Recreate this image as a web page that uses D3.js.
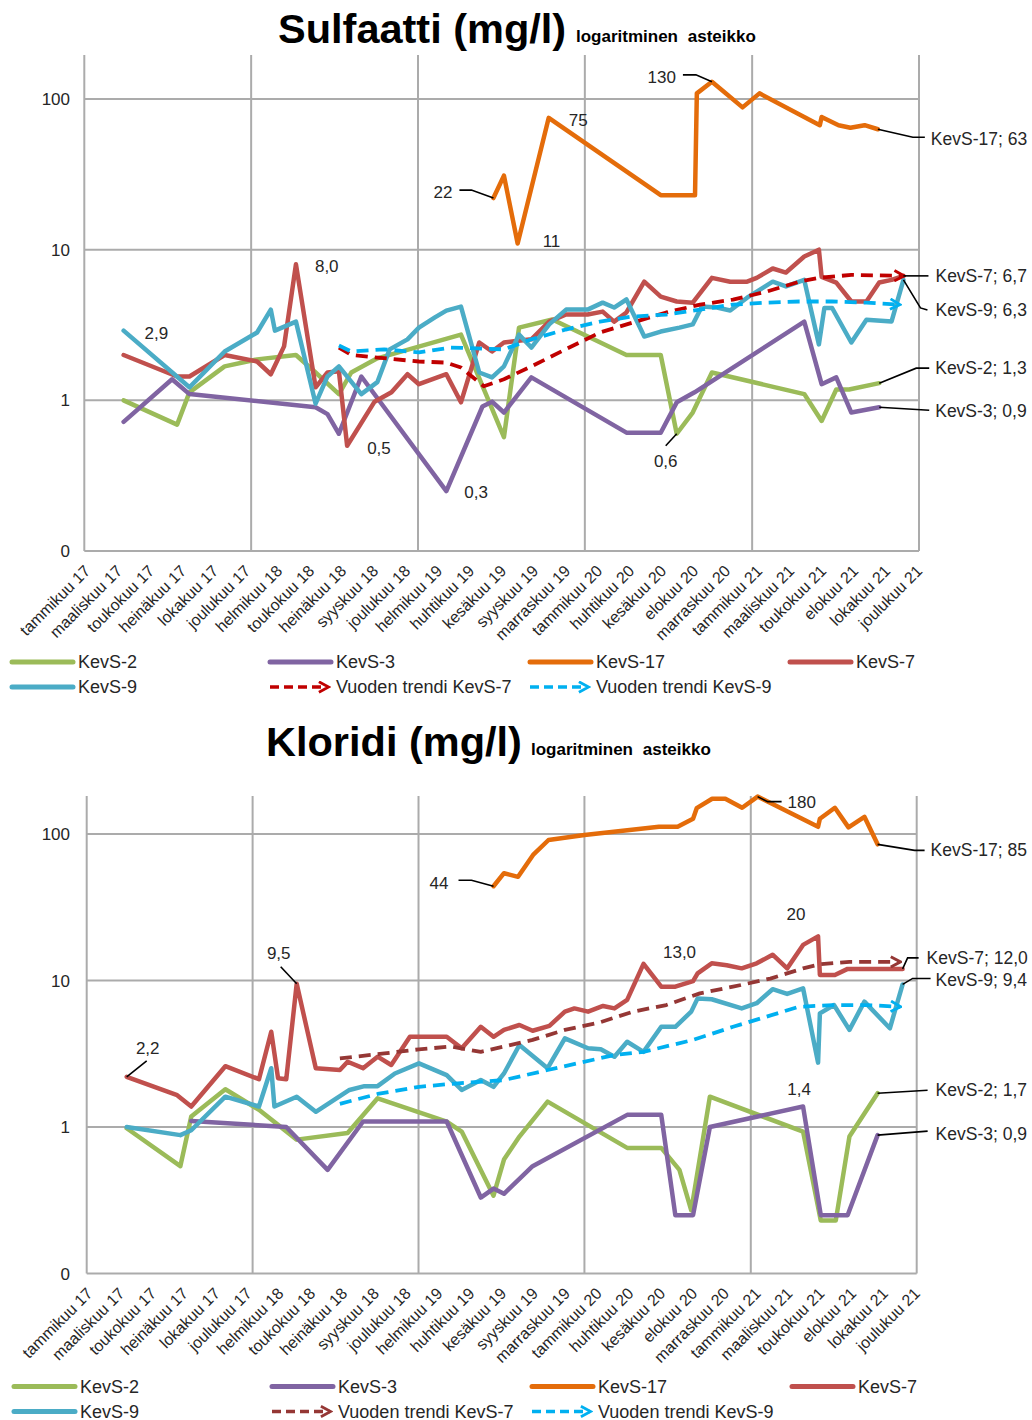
<!DOCTYPE html>
<html><head><meta charset="utf-8">
<script src="https://cdn.jsdelivr.net/npm/d3@7"></script>
<style>
body{margin:0;background:#fff;}
svg text{font-family:"Liberation Sans",Arial,sans-serif;fill:#262626;}
</style></head><body>
<svg id="c" width="1032" height="1420"></svg>
<script>
// ---------- shared axis data ----------
const xTickLabels = ["tammikuu 17","maaliskuu 17","toukokuu 17","heinäkuu 17","lokakuu 17","joulukuu 17","helmikuu 18","toukokuu 18","heinäkuu 18","syyskuu 18","joulukuu 18","helmikuu 19","huhtikuu 19","kesäkuu 19","syyskuu 19","marraskuu 19","tammikuu 20","huhtikuu 20","kesäkuu 20","elokuu 20","marraskuu 20","tammikuu 21","maaliskuu 21","toukokuu 21","elokuu 21","lokakuu 21","joulukuu 21"];
const xTickStart = "2017-01-01";
const xTickStepDays = 70;
const xDomain = ["2017-01-01","2022-01-01"];
const yearLines = ["2017-01-01","2018-01-01","2019-01-01","2020-01-01","2021-01-01","2022-01-01"];
const yTickValues = [0.1, 1, 10, 100];
const yTickLabels = ["0","1","10","100"];
const seriesNames = ["KevS-2","KevS-3","KevS-17","KevS-7","KevS-9","Vuoden trendi KevS-7","Vuoden trendi KevS-9"];

// ---------- Sulfaatti ----------
const sulS2Dates = ["2017-03-28","2017-07-23","2017-08-19","2017-11-04","2018-01-14","2018-04-09","2018-05-22","2018-07-12","2018-08-08","2018-10-04","2019-04-05","2019-07-08","2019-08-10","2019-10-22","2020-04-01","2020-06-15","2020-07-20","2020-08-24","2020-10-05","2021-04-25","2021-06-02","2021-07-04","2021-08-01","2021-10-06"];
const sulS2Vals = [1.0,0.69,1.13,1.68,1.87,2.0,1.53,1.1,1.53,1.9,2.73,0.57,3.04,3.44,2.0,2.0,0.6,0.83,1.53,1.1,0.73,1.18,1.18,1.3];

const sulS3Dates = ["2017-03-28","2017-07-12","2017-08-19","2018-05-22","2018-06-17","2018-07-12","2018-08-30","2019-03-04","2019-05-22","2019-06-12","2019-07-08","2019-09-06","2020-04-01","2020-06-15","2020-07-20","2020-08-28","2021-04-25","2021-06-02","2021-07-04","2021-08-06","2021-10-06"];
const sulS3Vals = [0.72,1.38,1.1,0.9,0.81,0.6,1.44,0.25,0.91,0.98,0.83,1.42,0.61,0.61,0.97,1.13,3.33,1.28,1.42,0.83,0.9];

const sulS17Dates = ["2019-06-15","2019-07-08","2019-08-07","2019-10-14","2020-06-15","2020-08-29","2020-09-02","2020-10-05","2020-12-11","2021-01-17","2021-05-29","2021-06-02","2021-07-09","2021-08-04","2021-09-04","2021-10-03"];
const sulS17Vals = [22,31,11,75,23,23,109,130,88,109,67,76,67,64.5,67,63];

const sulS7Dates = ["2017-03-28","2017-07-23","2017-08-19","2017-11-04","2018-01-14","2018-02-13","2018-03-14","2018-04-09","2018-05-22","2018-06-17","2018-07-12","2018-07-30","2018-09-28","2018-11-04","2018-12-09","2019-01-03","2019-03-04","2019-04-05","2019-05-15","2019-06-12","2019-07-08","2019-07-26","2019-09-06","2019-10-15","2019-11-21","2020-01-07","2020-02-09","2020-03-05","2020-04-01","2020-05-10","2020-06-15","2020-07-20","2020-08-24","2020-10-05","2020-11-14","2020-12-21","2021-01-11","2021-02-15","2021-03-16","2021-04-25","2021-05-27","2021-06-02","2021-07-04","2021-08-06","2021-09-08","2021-10-06","2021-11-02","2021-11-28"];
const sulS7Vals = [2.0,1.44,1.44,2.0,1.81,1.49,2.28,8.0,1.22,1.53,1.56,0.5,0.98,1.13,1.49,1.28,1.49,0.97,2.42,2.11,2.42,2.46,2.54,3.33,3.71,3.71,3.88,3.33,3.83,6.13,4.88,4.53,4.45,6.5,6.13,6.13,6.5,7.5,7.05,9.0,10.0,6.6,6.05,4.53,4.53,6.05,6.3,6.7];

const sulS9Dates = ["2017-03-28","2017-08-19","2017-11-04","2018-01-14","2018-02-13","2018-02-22","2018-04-09","2018-05-22","2018-06-17","2018-07-12","2018-08-30","2018-10-04","2018-10-31","2018-12-09","2019-01-03","2019-02-07","2019-03-04","2019-04-05","2019-05-15","2019-06-12","2019-07-08","2019-08-10","2019-09-06","2019-10-15","2019-11-21","2020-01-07","2020-02-09","2020-03-05","2020-04-01","2020-05-10","2020-06-15","2020-07-26","2020-08-24","2020-09-13","2020-10-16","2020-11-14","2020-12-21","2021-02-15","2021-03-16","2021-04-25","2021-05-27","2021-06-08","2021-06-25","2021-08-06","2021-09-08","2021-11-02","2021-11-28"];
const sulS9Vals = [2.9,1.22,2.11,2.82,4.0,2.9,3.33,0.95,1.44,1.68,1.1,1.32,2.18,2.54,3.04,3.55,3.94,4.19,1.53,1.42,1.68,2.73,2.24,3.19,4.0,4.0,4.45,4.13,4.67,2.65,2.86,3.04,3.19,4.19,4.13,3.95,4.8,6.13,5.7,6.3,2.35,4.1,4.1,2.42,3.43,3.34,6.3];

const sulT7Dates = ["2018-07-12","2018-08-08","2018-09-28","2019-01-03","2019-03-04","2019-04-05","2019-05-25","2019-07-08","2019-09-06","2019-11-20","2020-02-03","2020-04-14","2020-06-27","2020-09-09","2020-11-20","2021-02-02","2021-04-14","2021-05-27","2021-08-06","2021-11-28"];
const sulT7Vals = [2.24,2.0,1.93,1.81,1.78,1.65,1.24,1.38,1.68,2.18,2.82,3.28,3.83,4.32,4.66,5.27,6.13,6.5,6.8,6.7];

const sulT9Dates = ["2018-07-12","2018-08-08","2018-10-19","2019-01-03","2019-03-14","2019-07-08","2019-09-06","2019-11-20","2020-02-03","2020-04-14","2020-06-27","2020-09-09","2020-11-20","2021-02-02","2021-04-14","2021-06-25","2021-09-08","2021-11-19"];
const sulT9Vals = [2.31,2.11,2.18,2.08,2.24,2.18,2.54,2.95,3.33,3.6,3.71,4.0,4.32,4.45,4.53,4.53,4.45,4.32];

// ---------- Kloridi ----------
const klS2Dates = ["2017-03-30","2017-07-26","2017-08-19","2017-11-02","2018-01-15","2018-04-08","2018-07-29","2018-10-03","2019-03-04","2019-04-06","2019-06-15","2019-07-08","2019-08-11","2019-10-12","2020-04-04","2020-06-18","2020-07-28","2020-08-23","2020-10-03","2021-04-26","2021-06-04","2021-07-07","2021-08-06","2021-10-07"];
const klS2Vals = [0.98,0.54,1.18,1.81,1.31,0.82,0.91,1.57,1.09,0.93,0.34,0.6,0.86,1.49,0.72,0.72,0.51,0.27,1.61,0.93,0.23,0.23,0.86,1.7];

const klS3Dates = ["2017-08-19","2018-03-16","2018-06-15","2018-09-01","2019-03-04","2019-05-18","2019-06-15","2019-07-08","2019-09-09","2020-04-04","2020-06-18","2020-07-19","2020-08-27","2020-10-03","2021-04-26","2021-06-04","2021-08-02","2021-10-07"];
const klS3Vals = [1.1,1.0,0.51,1.09,1.09,0.33,0.38,0.35,0.54,1.21,1.21,0.25,0.25,1.0,1.38,0.25,0.25,0.88];

const klS17Dates = ["2019-06-15","2019-07-08","2019-08-08","2019-09-10","2019-10-14","2020-01-01","2020-06-13","2020-07-24","2020-08-27","2020-09-04","2020-10-08","2020-11-06","2020-12-13","2021-01-16","2021-05-29","2021-06-02","2021-07-05","2021-08-04","2021-09-08","2021-10-07"];
const klS17Vals = [44,54,51,72,91,98.5,112,112,127,150,174,174,151,180,112,127,151,111,131,85];

const klS7Dates = ["2017-03-30","2017-07-19","2017-08-19","2017-11-02","2018-01-15","2018-02-11","2018-02-26","2018-03-16","2018-04-08","2018-05-20","2018-07-12","2018-07-29","2018-09-01","2018-10-03","2018-11-02","2018-12-13","2019-03-04","2019-04-06","2019-05-18","2019-06-15","2019-07-08","2019-08-11","2019-09-09","2019-10-16","2019-11-19","2019-12-10","2020-01-09","2020-02-11","2020-03-07","2020-04-04","2020-05-10","2020-06-18","2020-07-19","2020-08-27","2020-09-06","2020-10-07","2020-11-09","2020-12-12","2021-01-14","2021-02-18","2021-03-22","2021-04-26","2021-05-29","2021-06-02","2021-07-05","2021-08-02","2021-12-01"];
const klS7Vals = [2.2,1.65,1.38,2.6,2.12,4.47,2.15,2.12,9.5,2.52,2.45,2.79,2.52,3.02,2.65,4.13,4.13,3.45,4.83,4.13,4.6,4.97,4.54,4.9,6.13,6.45,6.13,6.7,6.45,7.37,13.0,9.07,9.07,9.9,11.2,13.1,12.7,12.1,13.1,15.0,12.1,17.5,20,10.9,10.9,12.0,12.0];

const klS9Dates = ["2017-03-30","2017-07-26","2017-08-19","2017-11-02","2018-01-15","2018-02-11","2018-02-18","2018-04-08","2018-05-20","2018-08-02","2018-09-04","2018-10-03","2018-11-10","2019-01-02","2019-03-04","2019-04-06","2019-05-18","2019-06-15","2019-07-08","2019-08-11","2019-10-12","2019-11-19","2020-01-09","2020-02-06","2020-03-07","2020-04-04","2020-05-10","2020-06-18","2020-07-19","2020-08-23","2020-09-06","2020-10-07","2020-12-12","2021-01-14","2021-02-18","2021-03-22","2021-04-26","2021-05-29","2021-06-02","2021-07-03","2021-08-06","2021-09-08","2021-11-03","2021-12-01"];
const klS9Vals = [1.0,0.88,0.95,1.61,1.38,2.52,1.38,1.61,1.27,1.79,1.9,1.9,2.32,2.72,2.26,1.79,2.09,1.88,2.32,3.63,2.52,4.03,3.45,3.39,3.02,3.82,3.26,4.83,4.83,6.13,7.55,7.45,6.45,7.0,8.72,8.1,8.85,2.75,5.97,6.8,4.6,7.17,4.72,9.4];

const klT7Dates = ["2018-07-12","2018-10-18","2019-01-02","2019-03-13","2019-05-18","2019-07-08","2019-09-09","2019-11-19","2020-02-06","2020-04-17","2020-06-29","2020-09-11","2020-11-23","2021-02-13","2021-04-26","2021-06-02","2021-08-06","2021-11-25"];
const klT7Vals = [2.94,3.18,3.39,3.54,3.26,3.54,3.93,4.6,5.2,6.13,6.8,8.17,9.07,10.3,12.1,12.9,13.4,13.4];

const klT9Dates = ["2018-07-12","2018-10-03","2019-01-02","2019-03-13","2019-07-08","2019-10-12","2020-03-07","2020-05-10","2020-08-27","2020-11-23","2021-04-17","2021-06-30","2021-09-12","2021-11-25"];
const klT9Vals = [1.44,1.68,1.88,1.97,2.09,2.45,3.1,3.26,3.93,4.83,6.62,6.8,6.8,6.62];

// ---------- drawing ----------
const parse = d3.timeParse("%Y-%m-%d");
const svg = d3.select("#c");
const defs = svg.append("defs");
function arrowMarker(id, color){
  defs.append("marker").attr("id", id).attr("viewBox","0 0 10 10")
    .attr("refX", 8).attr("refY", 5).attr("markerWidth", 13).attr("markerHeight", 13)
    .attr("markerUnits","userSpaceOnUse").attr("orient","auto")
    .append("path").attr("d","M1,1 L8.5,5 L1,9").attr("fill","none")
    .attr("stroke", color).attr("stroke-width", 2.2).attr("stroke-linejoin","miter");
}

const colS2 = "#9BBB59", colS3 = "#8064A2", colS17 = "#E46C0A", colS7 = "#C0504D", colS9 = "#4BACC6";
const colT9 = "#00B0F0";

function drawChart(cfg){
  const g = svg.append("g");
  const x = d3.scaleTime().domain(xDomain.map(parse)).range([cfg.x0, cfg.x1]);
  const y = d3.scaleLog().domain([0.1, 100]).range([cfg.yBottom, cfg.y100]);
  const grid = "#ABABAB";

  // title
  g.append("text").attr("x", cfg.titleX).attr("y", cfg.titleY)
    .attr("font-size", 41.5).attr("font-weight","bold").style("fill","#000").text(cfg.title);
  g.append("text").attr("x", cfg.subX).attr("y", cfg.subY)
    .attr("font-size", 17).attr("font-weight","bold").attr("word-spacing", 5).style("fill","#000")
    .text("logaritminen asteikko");

  // horizontal gridlines
  g.selectAll(".hg").data(yTickValues.slice(1)).enter().append("line")
    .attr("x1", cfg.x0).attr("x2", cfg.x1).attr("y1", d=>y(d)).attr("y2", d=>y(d))
    .attr("stroke", grid).attr("stroke-width", 2);
  // vertical gridlines
  g.selectAll(".vg").data(yearLines.map(parse)).enter().append("line")
    .attr("x1", d=>x(d)).attr("x2", d=>x(d)).attr("y1", cfg.yTop).attr("y2", cfg.yBottom)
    .attr("stroke", grid).attr("stroke-width", 2);
  // bottom axis line
  g.append("line").attr("x1", cfg.x0).attr("x2", cfg.x1).attr("y1", cfg.yBottom).attr("y2", cfg.yBottom)
    .attr("stroke", grid).attr("stroke-width", 2.2);

  // y tick labels
  g.selectAll(".yl").data(yTickValues).enter().append("text")
    .attr("x", 70).attr("y", d=>y(d)+6).attr("text-anchor","end").attr("font-size", 17)
    .text((d,i)=>yTickLabels[i]);

  // x tick labels
  const t0 = parse(xTickStart);
  xTickLabels.forEach((lab,i)=>{
    const d = d3.timeDay.offset(t0, i*xTickStepDays);
    const px = x(d) + 3, py = cfg.yBottom + 17;
    g.append("text").attr("transform", `translate(${px},${py}) rotate(-45)`)
      .attr("text-anchor","end").attr("font-size", 16).attr("dy", "0.35em").text(lab);
  });

  // series
  const line = d3.line().x(d=>x(d[0])).y(d=>y(d[1])).curve(d3.curveLinear);
  const pts = {};
  cfg.series.forEach(s=>{
    const data = s.dates.map((d,i)=>[parse(d), s.vals[i]]);
    pts[s.key] = data;
    const p = g.append("path").datum(data).attr("d", line).attr("fill","none")
      .attr("stroke", s.color).attr("stroke-width", s.dash ? 3.8 : 4.5)
      .attr("stroke-linejoin","round").attr("stroke-linecap", s.dash ? "butt" : "round");
    if (s.dash) p.attr("stroke-dasharray", s.dash);
    if (s.marker) p.attr("marker-end", `url(#${s.marker})`);
  });

  // annotations
  cfg.notes.forEach(n=>{
    const data = pts[n.s];
    const d = n.i < 0 ? data[data.length-1] : data[n.i];
    const px = x(d[0]), py = y(d[1]);
    if (n.leader){
      g.append("path").attr("d", d3.line()(n.leader.map(q=>[px+q[0], py+q[1]])))
        .attr("fill","none").attr("stroke","#000").attr("stroke-width", 1.6);
    }
    g.append("text").attr("x", px+n.dx).attr("y", py+n.dy)
      .attr("text-anchor", n.anchor || "start").attr("font-size", n.fs || 17).text(n.text);
  });

  // legend
  const L = cfg.legend;
  const items = [
    {c:0,r:0,color:colS2},{c:1,r:0,color:colS3},{c:2,r:0,color:colS17},{c:3,r:0,color:colS7},
    {c:0,r:1,color:colS9},{c:1,r:1,color:cfg.t7color,dash:"9,5",marker:cfg.t7marker+"L"},{c:2,r:1,color:colT9,dash:"9,5",marker:"mT9L"}
  ];
  items.forEach((it,k)=>{
    const lx = L.cols[it.c], ly = L.rows[it.r];
    const ln = g.append("line").attr("x1", lx).attr("x2", lx + (it.dash ? 58 : 61)).attr("y1", ly).attr("y2", ly)
      .attr("stroke", it.color).attr("stroke-width", it.dash ? 3.6 : 5).attr("stroke-linecap", it.dash ? "butt":"round");
    if (it.dash){ ln.attr("stroke-dasharray", it.dash).attr("marker-end", `url(#${it.marker})`); }
    g.append("text").attr("x", lx + 66).attr("y", ly + 6).attr("font-size", 18).text(seriesNames[k]);
  });
}

arrowMarker("mT7a", "#C00000");
arrowMarker("mT7b", "#953735");
arrowMarker("mT9", colT9);
arrowMarker("mT7aL", "#C00000");
arrowMarker("mT7bL", "#953735");
arrowMarker("mT9L", colT9);

drawChart({
  title:"Sulfaatti (mg/l)", titleX:278, titleY:43, subX:576, subY:42,
  x0:84.3, x1:919, yBottom:551, y100:99, yTop:55,
  t7color:"#C00000", t7marker:"mT7a",
  series:[
    {key:"S2", dates:sulS2Dates, vals:sulS2Vals, color:colS2},
    {key:"S3", dates:sulS3Dates, vals:sulS3Vals, color:colS3},
    {key:"S17", dates:sulS17Dates, vals:sulS17Vals, color:colS17},
    {key:"S7", dates:sulS7Dates, vals:sulS7Vals, color:colS7},
    {key:"S9", dates:sulS9Dates, vals:sulS9Vals, color:colS9},
    {key:"T7", dates:sulT7Dates, vals:sulT7Vals, color:"#C00000", dash:"12,7", marker:"mT7a"},
    {key:"T9", dates:sulT9Dates, vals:sulT9Vals, color:colT9, dash:"12,7", marker:"mT9"}
  ],
  notes:[
    {s:"S17", i:7, text:"130", dx:-36, dy:1, anchor:"end", leader:[[-29,-7],[-16,-7],[0,0]]},
    {s:"S17", i:3, text:"75", dx:20, dy:8},
    {s:"S17", i:0, text:"22", dx:-41, dy:0, anchor:"end", leader:[[-34,-8],[-22,-8],[0,0]]},
    {s:"S17", i:2, text:"11", dx:25, dy:4},
    {s:"S7", i:7, text:"8,0", dx:19, dy:8},
    {s:"S9", i:0, text:"2,9", dx:21, dy:8},
    {s:"S7", i:11, text:"0,5", dx:20, dy:8},
    {s:"S3", i:7, text:"0,3", dx:18, dy:7},
    {s:"S2", i:16, text:"0,6", dx:-11, dy:33, anchor:"middle", leader:[[-11,12],[0,0]]},
    {s:"S17", i:-1, text:"KevS-17; 63", dx:53, dy:16, fs:17.5, leader:[[0,0],[35,8],[47,8]]},
    {s:"S7", i:-1, text:"KevS-7; 6,7", dx:32, dy:6, fs:17.5, leader:[[0,0],[25,0]]},
    {s:"S9", i:-1, text:"KevS-9; 6,3", dx:32, dy:36, fs:17.5, leader:[[0,0],[17,28],[24,30]]},
    {s:"S2", i:-1, text:"KevS-2; 1,3", dx:56, dy:-9, fs:17.5, leader:[[0,0],[37,-15],[50,-15]]},
    {s:"S3", i:-1, text:"KevS-3; 0,9", dx:56, dy:10, fs:17.5, leader:[[0,0],[50,3]]}
  ],
  legend:{cols:[12,270,530,790], rows:[662,687]}
});

drawChart({
  title:"Kloridi (mg/l)", titleX:266, titleY:756, subX:531, subY:755,
  x0:86.7, x1:916.7, yBottom:1273.5, y100:834, yTop:796,
  t7color:"#953735", t7marker:"mT7b",
  series:[
    {key:"S2", dates:klS2Dates, vals:klS2Vals, color:colS2},
    {key:"S3", dates:klS3Dates, vals:klS3Vals, color:colS3},
    {key:"S17", dates:klS17Dates, vals:klS17Vals, color:colS17},
    {key:"S7", dates:klS7Dates, vals:klS7Vals, color:colS7},
    {key:"S9", dates:klS9Dates, vals:klS9Vals, color:colS9},
    {key:"T7", dates:klT7Dates, vals:klT7Vals, color:"#953735", dash:"12,7", marker:"mT7b"},
    {key:"T9", dates:klT9Dates, vals:klT9Vals, color:colT9, dash:"12,7", marker:"mT9"}
  ],
  notes:[
    {s:"S17", i:13, text:"180", dx:30, dy:11, leader:[[0,0],[10,5],[24,5]]},
    {s:"S17", i:0, text:"44", dx:-45, dy:3, anchor:"end", leader:[[-35,-6],[-22,-6],[0,0]]},
    {s:"S7", i:8, text:"9,5", dx:-18, dy:-25, anchor:"middle", leader:[[-16,-17],[0,0]]},
    {s:"S7", i:0, text:"2,2", dx:21, dy:-23, anchor:"middle", leader:[[20,-16],[0,0]]},
    {s:"S7", i:30, text:"13,0", dx:36, dy:-6, anchor:"middle"},
    {s:"S7", i:42, text:"20", dx:-22, dy:-16, anchor:"middle"},
    {s:"S3", i:14, text:"1,4", dx:-4, dy:-12, anchor:"middle"},
    {s:"S17", i:-1, text:"KevS-17; 85", dx:53, dy:12, fs:17.5, leader:[[0,0],[37,6],[47,6]]},
    {s:"S7", i:-1, text:"KevS-7; 12,0", dx:24, dy:-5, fs:17.5, leader:[[0,0],[5,-11],[16,-11]]},
    {s:"S9", i:-1, text:"KevS-9; 9,4", dx:33, dy:2, fs:17.5, leader:[[0,0],[10,-6],[28,-6]]},
    {s:"S2", i:-1, text:"KevS-2; 1,7", dx:58, dy:3, fs:17.5, leader:[[0,0],[50,-3]]},
    {s:"S3", i:-1, text:"KevS-3; 0,9", dx:58, dy:5, fs:17.5, leader:[[0,0],[50,-4]]}
  ],
  legend:{cols:[14,272,532,792], rows:[1386.5,1411.5]}
});
</script>
</body></html>
